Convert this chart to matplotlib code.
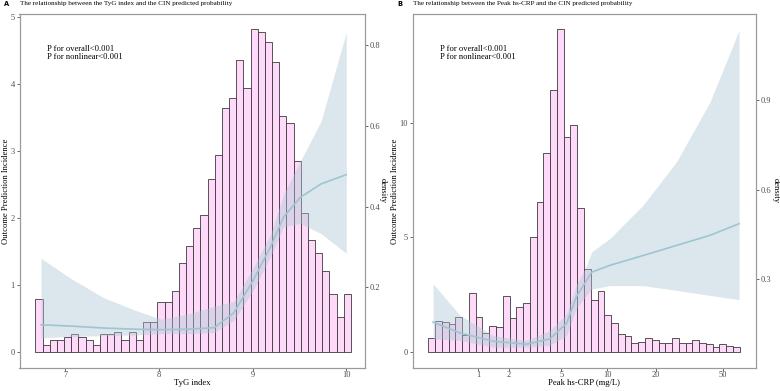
"""Two-panel RCS plot: CIN predicted probability vs TyG index and vs peak hs-CRP,
with the exposure histogram drawn underneath."""
import matplotlib
matplotlib.use("Agg")
import matplotlib.pyplot as plt
import numpy as np

plt.rcParams["font.family"] = ["Liberation Serif", "DejaVu Serif"]

# ---- panel A: TyG index -------------------------------------------------
TYG_RANGE = (6.68, 10.05)
TYG_HIST = [0.80, 0.11, 0.19, 0.19, 0.23, 0.27, 0.23, 0.19, 0.11, 0.27, 0.27,
            0.30, 0.19, 0.30, 0.19, 0.45, 0.45, 0.75, 0.75, 0.91, 1.33, 1.59,
            1.85, 2.05, 2.59, 2.94, 3.65, 3.80, 4.37, 3.95, 4.83, 4.78, 4.63,
            4.33, 3.53, 3.42, 2.85, 2.08, 1.67, 1.48, 1.22, 0.87, 0.53, 0.87]
TYG_X = [6.74, 7.05, 7.41, 7.77, 8.02, 8.30, 8.59, 8.80, 9.00, 9.19, 9.33,
         9.51, 9.73, 10.0]
TYG_FIT = [0.107, 0.104, 0.099, 0.096, 0.095, 0.096, 0.100, 0.137, 0.215,
           0.300, 0.374, 0.423, 0.456, 0.479]
TYG_LO = [0.075, 0.078, 0.080, 0.082, 0.085, 0.085, 0.088, 0.118, 0.190,
          0.275, 0.350, 0.358, 0.333, 0.284]
TYG_HI = [0.272, 0.223, 0.174, 0.141, 0.121, 0.133, 0.153, 0.165, 0.247,
          0.330, 0.430, 0.513, 0.611, 0.832]

# ---- panel B: peak hs-CRP (mg/L) -----------------------------------------
CRP_RANGE = (0.032, 62.8)
CRP_HIST = [0.62, 1.35, 1.30, 1.20, 1.54, 0.74, 2.58, 1.54, 0.84, 1.14, 1.09,
            2.46, 1.49, 1.96, 2.12, 5.01, 6.54, 8.67, 11.42, 14.06, 9.39, 9.89,
            6.28, 3.62, 2.25, 2.65, 1.61, 1.26, 0.80, 0.68, 0.39, 0.45, 0.62,
            0.51, 0.39, 0.39, 0.62, 0.39, 0.39, 0.51, 0.39, 0.33, 0.22, 0.33,
            0.28, 0.22]
CRP_X = [0.10, 0.57, 1.44, 2.79, 4.16, 5.44, 6.34, 7.40, 7.97, 10.4, 16.7,
         26.6, 42.0, 62.2]
CRP_FIT = [0.154, 0.118, 0.090, 0.080, 0.098, 0.150, 0.240, 0.295, 0.322,
           0.345, 0.378, 0.412, 0.446, 0.485]
CRP_LO = [0.098, 0.093, 0.070, 0.070, 0.076, 0.109, 0.200, 0.245, 0.265,
          0.277, 0.277, 0.261, 0.244, 0.230]
CRP_HI = [0.283, 0.177, 0.109, 0.093, 0.126, 0.182, 0.280, 0.345, 0.390,
          0.435, 0.547, 0.693, 0.894, 1.135]
CRP_TICKS = [1, 2, 5, 10, 20, 50]

BAR_FILL = "#ffd9fa"
BAR_EDGE = "#3a3a3a"
BAND = "#aac8d2"
LINE = "#9fc4d2"
GREY = "#4d4d4d"


def _style(ax, ax2):
    for a in (ax, ax2):
        for s in a.spines.values():
            s.set_color("#9a9a9a")
            s.set_linewidth(0.8)
        a.tick_params(labelsize=6, colors=GREY, length=2.5, width=0.6,
                      pad=1)
    ax.tick_params(axis="x", length=2, pad=0.5)


def _panel(ax, edges, hist, x, fit, lo, hi, title, letter, xlabel,
           ylab_x, dens_x):
    ax.bar(edges[:-1], hist, width=np.diff(edges), align="edge",
           color=BAR_FILL, edgecolor=BAR_EDGE, linewidth=0.6, zorder=1)
    ax2 = ax.twinx()
    ax2.fill_between(x, lo, hi, color=BAND, alpha=0.42, linewidth=0)
    ax2.plot(x, fit, color=LINE, linewidth=1.2)
    ax.set_xlabel(xlabel, fontsize=6.2, va="center")
    ax.xaxis.set_label_coords(0.5, -0.043)
    ax.set_ylabel("Outcome Prediction Incidence", fontsize=6.2, va="center")
    ax.yaxis.set_label_coords(ylab_x, 0.5)
    ax2.set_ylabel("density", fontsize=6.2, rotation=270, va="center")
    ax2.yaxis.set_label_coords(dens_x, 0.5)
    ax.text(0.079, 0.889, "P for overall<0.001\nP for nonlinear<0.001",
            transform=ax.transAxes, fontsize=6.1, va="center",
            linespacing=1.05)
    ax.text(0.0, 1.022, title, transform=ax.transAxes, fontsize=5.1,
            va="bottom")
    ax.text(-0.045, 1.028, letter, transform=ax.transAxes, fontsize=4.8,
            fontweight="bold", family="DejaVu Sans", va="center")
    _style(ax, ax2)
    return ax2


fig = plt.figure(figsize=(7.8, 3.91), dpi=100)
ax_a = fig.add_axes([0.025, 0.0588, 0.443, 0.9054])
ax_b = fig.add_axes([0.5295, 0.0588, 0.4395, 0.9054])

tyg_edges = np.linspace(TYG_RANGE[0], TYG_RANGE[1], len(TYG_HIST) + 1)
a2 = _panel(ax_a, tyg_edges, TYG_HIST, TYG_X, TYG_FIT, TYG_LO, TYG_HI,
            "The relationship between the TyG index and the CIN predicted probability",
            "A", "TyG index", -0.039, 1.05)
ax_a.set_xlim(6.51, 10.2)
ax_a.set_ylim(-0.235, 5.05)
ax_a.set_xticks([7, 8, 9, 10])
ax_a.set_yticks([0, 1, 2, 3, 4, 5])
a2.set_ylim(0, 0.877)
a2.set_yticks([0.2, 0.4, 0.6, 0.8])

fwd = lambda v: np.log10(np.clip(np.asarray(v, float) + 1, 1e-6, None))
inv = lambda u: 10 ** np.asarray(u, float) - 1
crp_edges = inv(np.linspace(fwd(CRP_RANGE[0]), fwd(CRP_RANGE[1]),
                            len(CRP_HIST) + 1))
ax_b.set_xscale("function", functions=(fwd, inv))
b2 = _panel(ax_b, crp_edges, CRP_HIST, CRP_X, CRP_FIT, CRP_LO, CRP_HI,
            "The relationship between the Peak hs-CRP and the CIN predicted probability",
            "B", "Peak hs-CRP (mg/L)", -0.052, 1.059)
ax_b.set_xlim(-0.157, 77.9)
ax_b.set_ylim(-0.70, 14.73)
ax_b.set_xticks(CRP_TICKS)
ax_b.set_xticklabels([str(t) for t in CRP_TICKS])
ax_b.xaxis.set_minor_locator(matplotlib.ticker.NullLocator())
ax_b.set_yticks([0, 5, 10])
b2.set_ylim(0, 1.19)
b2.set_yticks([0.3, 0.6, 0.9])

fig.savefig("out.png", dpi=100)
